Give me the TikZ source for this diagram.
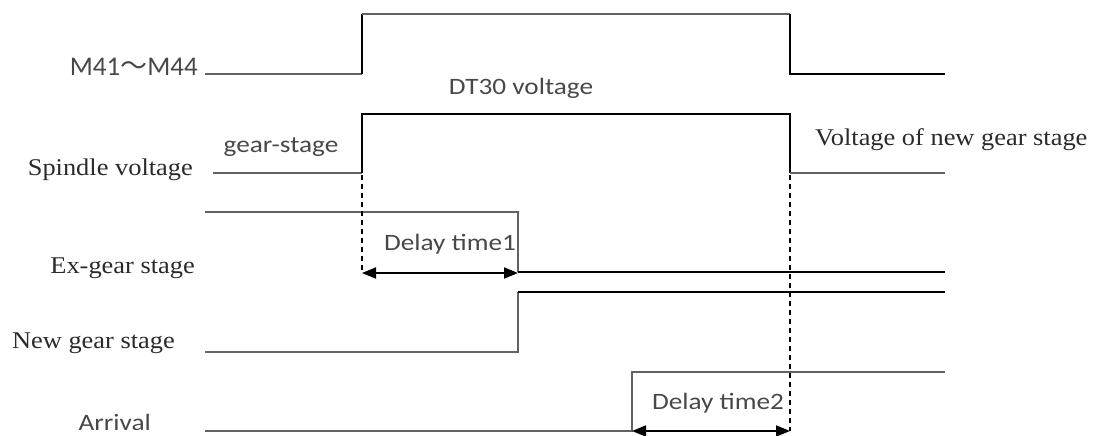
\documentclass[tikz,border=0pt]{standalone}
\usepackage{fontspec}
\usepackage{graphicx}
\setmainfont{Liberation Serif}
\newfontfamily\lblsans{Carlito}
\newfontfamily\cjkf{Noto Sans CJK SC}
\usetikzlibrary{arrows.meta}
\definecolor{sig}{HTML}{626262}
\definecolor{txtg}{HTML}{484848}
\definecolor{txts}{HTML}{2a2a2a}
\tikzset{
  sigthick/.style={draw=sig,line width=2.8pt},
  sigthin/.style={draw=black,line width=1.6pt},
  guide/.style={draw=black,line width=1.4pt,dash pattern=on 5pt off 4pt},
  span/.style={draw=black,line width=1.8pt,{Triangle[length=14pt,width=11pt]}-{Triangle[length=14pt,width=11pt]}},
  sanslbl/.style={inner sep=0pt,text=txtg,font=\lblsans\fontsize{23.5}{26}\selectfont},
  seriflbl/.style={inner sep=0pt,text=txts,font=\fontsize{24}{27}\selectfont},
}
\newcommand{\sx}[1]{\scalebox{1.16}[1]{#1}}
\newcommand{\rx}[1]{\scalebox{1.1}[1]{#1}}
\begin{document}
\begin{tikzpicture}[x=1pt,y=-1pt]
\useasboundingbox (0,0) rectangle (1103,436);
% M41~M44
\draw[sigthick] (205,74) -- (362,74);
\draw[sigthin] (362,74) -- (362,14);
\draw[sigthick] (362,14) -- (790,14);
\draw[sigthin] (790,14) -- (790,74) -- (945,74);
% Spindle voltage
\draw[sigthick] (213,173) -- (362,173);
\draw[sigthin] (362,173) -- (362,114) -- (790,114) -- (790,173);
\draw[sigthick] (790,173) -- (945,173);
% Ex-gear stage
\draw[sigthick] (205,212) -- (518,212) -- (518,272);
\draw[sigthin] (518,272) -- (945,272);
% New gear stage
\draw[sigthick] (205,352) -- (518,352) -- (518,292);
\draw[sigthin] (518,292) -- (945,292);
% Arrival
\draw[sigthick] (205,431) -- (632,431) -- (632,372) -- (945,372);
% guides
\coordinate (d1a) at (362,273);
\coordinate (d1b) at (518,273);
\coordinate (d2a) at (632,431);
\coordinate (d2b) at (790,431);
\draw[guide] (362,175) -- (d1a);
\draw[guide] (790,175) -- (d2b);
\draw[span] (d1a) -- (d1b);
\draw[span] (d2a) -- (d2b);
% labels
\node[sanslbl,anchor=base east,font=\lblsans\fontsize{27}{30}\selectfont] (lm) at (198,75) {M41\cjkf ～\lblsans M44};
\node[sanslbl] (ldt) at (521,88) {\sx{DT30 voltage}};
\node[sanslbl] (lgs) at (281,147) {\sx{gear-stage}};
\node[seriflbl,anchor=base east] (lsp) at (193,175) {\rx{Spindle voltage}};
\node[seriflbl,anchor=base west] (lvn) at (815,145) {\rx{Voltage of new gear stage}};
\node[seriflbl,anchor=base east] (lex) at (195,273) {\rx{Ex-gear stage}};
\node[seriflbl,anchor=base east] (lng) at (175,348) {\rx{New gear stage}};
\node[sanslbl,anchor=base east] (lar) at (151,430) {\sx{Arrival}};
\node[sanslbl] (ld1) at (450,244) {\sx{Delay time1}};
\node[sanslbl] (ld2) at (718,403) {\sx{Delay time2}};
\end{tikzpicture}
\end{document}
